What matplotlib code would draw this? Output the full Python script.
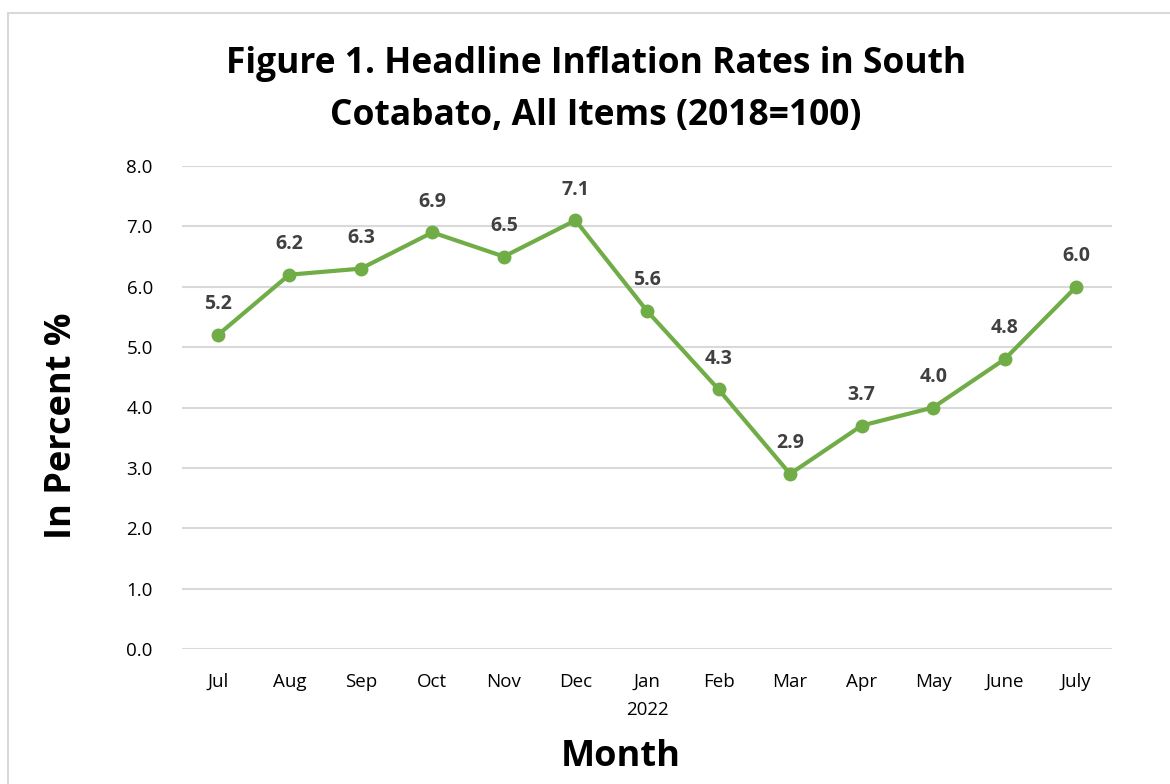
import matplotlib
matplotlib.use("Agg")
import matplotlib.pyplot as plt
from matplotlib.patches import Rectangle

months = ["Jul", "Aug", "Sep", "Oct", "Nov", "Dec", "Jan\n2022", "Feb", "Mar", "Apr", "May", "June", "July"]
rates = [5.2, 6.2, 6.3, 6.9, 6.5, 7.1, 5.6, 4.3, 2.9, 3.7, 4.0, 4.8, 6.0]
yticks = [0.0, 1.0, 2.0, 3.0, 4.0, 5.0, 6.0, 7.0, 8.0]

plt.rcParams['font.family'] = ['Open Sans', 'DejaVu Sans']

W, H = 1170, 784
fig = plt.figure(figsize=(W / 100, H / 100), dpi=100)

# outer chart border
fig.patches.append(Rectangle((8 / W, -0.05), 1.2, (H - 13) / H + 0.05, transform=fig.transFigure,
                             fill=False, edgecolor="#D9D9D9", linewidth=1.5))

ax = fig.add_axes([182 / W, 1 - 649 / H, (1112 - 182) / W, (649 - 166) / H])
x = list(range(len(months)))
ax.plot(x, rates, color="#70AD47", linewidth=3, marker="o", markersize=9, zorder=3)
for xi, v in zip(x, rates):
    ax.annotate(f"{v:.1f}", (xi, v), xytext=(0, 15), textcoords="offset points",
                ha="center", va="bottom", fontsize=14, fontweight="bold", color="#404040")

ax.set_xlim(-0.5, len(months) - 0.5)
ax.set_ylim(0, 8)
ax.set_yticks(yticks)
ax.set_yticklabels([f"{t:.1f}" for t in yticks])
ax.set_xticks(x)
ax.set_xticklabels(months, linespacing=1.75)
ax.tick_params(axis="both", length=0, labelsize=13.5, colors="black")
ax.tick_params(axis="y", pad=21)
ax.tick_params(axis="x", pad=17)
ax.grid(axis="y", color="#D9D9D9", linewidth=1.5)
ax.set_axisbelow(True)
for s in ax.spines.values():
    s.set_visible(False)

fig.text(596 / W, 1 - 90 / H, "Figure 1. Headline Inflation Rates in South\nCotabato, All Items (2018=100)",
         ha="center", va="center", fontsize=25.5, fontweight="bold", linespacing=1.6)
fig.text(62 / W, 1 - 426 / H, "In Percent %", rotation=90, ha="center", va="center",
         fontsize=26, fontweight="bold")
fig.text(621 / W, 1 - 757 / H, "Month", ha="center", va="center", fontsize=26, fontweight="bold")

fig.savefig("out.png", dpi=100, facecolor="white")
